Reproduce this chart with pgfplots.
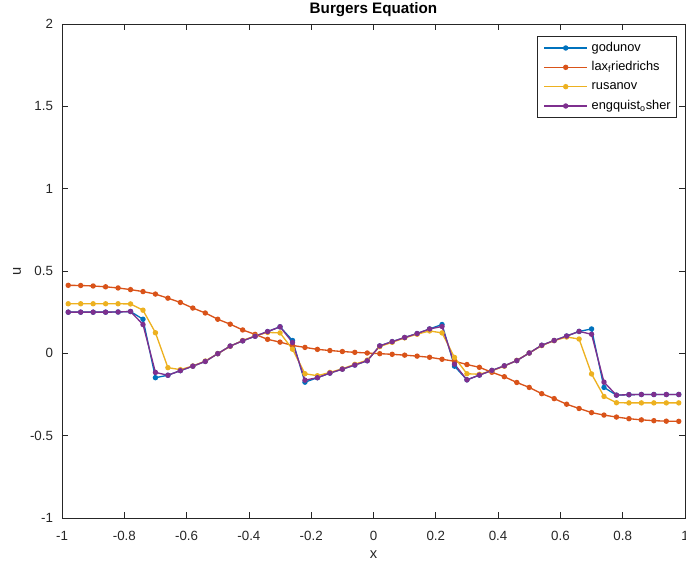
\documentclass[border=0pt]{standalone}
\usepackage{fontspec}
\setmainfont{Liberation Sans}
\usepackage{pgfplots}
\pgfplotsset{compat=1.18}
\usepackage{pgfplotstable}
\definecolor{mblue}{rgb}{0,0.447,0.741}
\definecolor{morange}{rgb}{0.850,0.325,0.098}
\definecolor{myellow}{rgb}{0.929,0.694,0.125}
\definecolor{mpurple}{rgb}{0.494,0.184,0.556}
\definecolor{axgray}{rgb}{0.15,0.15,0.15}

\pgfplotstableread{
x god lax rus eo
-0.98 0.250 0.413 0.301 0.250
-0.94 0.250 0.412 0.301 0.250
-0.90 0.250 0.409 0.301 0.250
-0.86 0.250 0.404 0.301 0.250
-0.82 0.251 0.397 0.301 0.251
-0.78 0.254 0.387 0.300 0.254
-0.74 0.207 0.375 0.262 0.175
-0.70 -0.148 0.360 0.125 -0.116
-0.66 -0.133 0.335 -0.087 -0.133
-0.62 -0.105 0.309 -0.099 -0.105
-0.58 -0.078 0.275 -0.077 -0.078
-0.54 -0.049 0.245 -0.047 -0.049
-0.50 -0.002 0.207 -0.002 -0.002
-0.46 0.044 0.177 0.043 0.044
-0.42 0.076 0.142 0.078 0.076
-0.38 0.104 0.115 0.106 0.104
-0.34 0.132 0.085 0.127 0.132
-0.30 0.161 0.068 0.124 0.161
-0.26 0.078 0.048 0.025 0.066
-0.22 -0.175 0.036 -0.124 -0.163
-0.18 -0.148 0.024 -0.136 -0.148
-0.14 -0.120 0.017 -0.116 -0.120
-0.10 -0.096 0.011 -0.094 -0.096
-0.06 -0.071 0.006 -0.067 -0.071
-0.02 -0.045 0.002 -0.041 -0.045
0.02 0.045 -0.002 0.041 0.045
0.06 0.071 -0.006 0.067 0.071
0.10 0.096 -0.011 0.094 0.096
0.14 0.120 -0.017 0.116 0.120
0.18 0.148 -0.024 0.136 0.148
0.22 0.175 -0.036 0.124 0.163
0.26 -0.078 -0.048 -0.025 -0.066
0.30 -0.161 -0.068 -0.124 -0.161
0.34 -0.132 -0.085 -0.127 -0.132
0.38 -0.104 -0.115 -0.106 -0.104
0.42 -0.076 -0.142 -0.078 -0.076
0.46 -0.044 -0.177 -0.043 -0.044
0.50 0.002 -0.207 0.002 0.002
0.54 0.049 -0.245 0.047 0.049
0.58 0.078 -0.275 0.077 0.078
0.62 0.105 -0.309 0.099 0.105
0.66 0.133 -0.335 0.087 0.133
0.70 0.148 -0.360 -0.125 0.116
0.74 -0.207 -0.375 -0.262 -0.175
0.78 -0.254 -0.387 -0.300 -0.254
0.82 -0.251 -0.397 -0.301 -0.251
0.86 -0.250 -0.404 -0.301 -0.250
0.90 -0.250 -0.409 -0.301 -0.250
0.94 -0.250 -0.412 -0.301 -0.250
0.98 -0.250 -0.413 -0.301 -0.250
}\data

\begin{document}
\begin{tikzpicture}
\begin{axis}[
  at={(0,0)}, anchor=south west,
  scale only axis, width=467.25pt, height=370.5pt,
  xmin=-1, xmax=1, ymin=-1, ymax=2,
  clip=false,
  xtick={-1,-0.8,-0.6,-0.4,-0.2,0,0.2,0.4,0.6,0.8,1},
  ytick={-1,-0.5,0,0.5,1,1.5,2},
  tick align=inside, major tick length=4.2pt,
  axis line style={color=axgray, line width=0.6pt},
  tick style={color=axgray, line width=0.6pt},
  /pgf/number format/assume math mode=true,
  ticklabel style={font=\fontsize{10}{12}\selectfont, color=axgray},
  xticklabel style={yshift=-6.5pt},
  yticklabel style={xshift=-3.2pt},
  xlabel={x},
  xlabel style={at={(axis description cs:0.5,-0.0740)}, anchor=center, font=\fontsize{11}{13}\selectfont, color=axgray},
  ylabel={u},
  ylabel style={at={(axis description cs:-0.0722,0.5)}, anchor=center, font=\fontsize{11}{13}\selectfont, color=axgray},
  every axis plot/.append style={line width=1pt, mark=*, mark size=1.5pt, mark options={solid}},
  legend image code/.code={\draw[#1, mark repeat=2, mark phase=2] plot coordinates {(0pt,0pt) (16pt,0pt) (32pt,0pt)};},
  legend style={at={(axis description cs:1,1)}, anchor=north east, xshift=-6pt, yshift=-9pt,
    draw=axgray, line width=0.5pt, font=\fontsize{9.6}{11}\selectfont,
    inner xsep=4.5pt, inner ysep=4.25pt, row sep=5.5pt, column sep=3pt,
    nodes={inner sep=0pt, text height=7pt, text depth=2pt}},
  legend cell align=left,
]
\addplot[color=mblue] table[x=x, y=god] {\data};
\addlegendentry{godunov}
\addplot[color=morange] table[x=x, y=lax] {\data};
\addlegendentry{lax\textsubscript{f}riedrichs}
\addplot[color=myellow] table[x=x, y=rus] {\data};
\addlegendentry{rusanov}
\addplot[color=mpurple] table[x=x, y=eo] {\data};
\addlegendentry{engquist\textsubscript{o}sher}
\node[anchor=center, font=\bfseries\fontsize{11.4}{13}\selectfont, yshift=10.5pt] at (axis description cs:0.5,1) {Burgers Equation};
\end{axis}
\pgfresetboundingbox
\useasboundingbox (-46.5pt,-36.75pt) rectangle (468pt,388.5pt);
\end{tikzpicture}
\end{document}
